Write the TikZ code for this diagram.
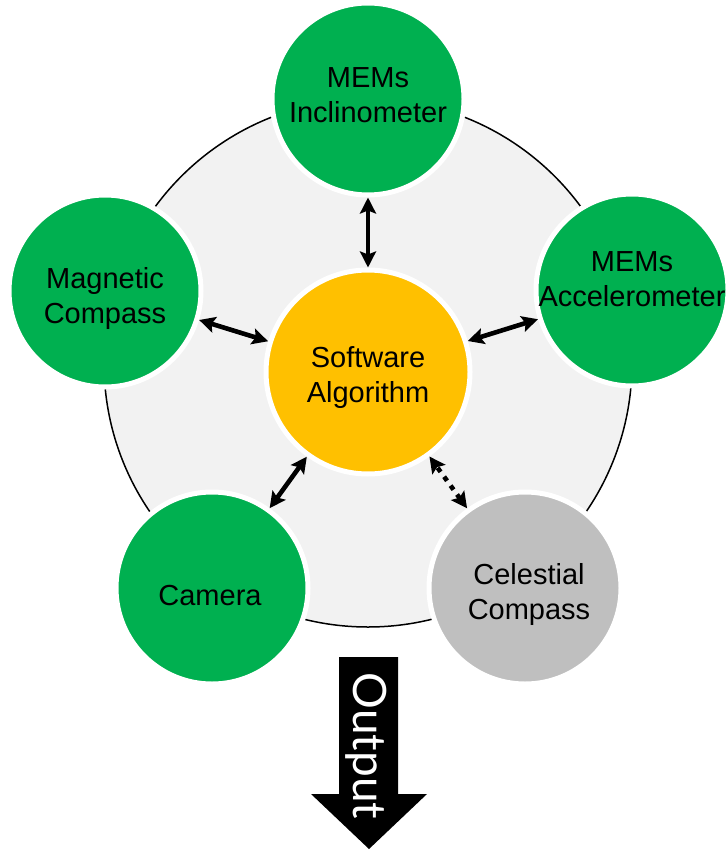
\documentclass[tikz,border=0pt]{standalone}
\usepackage{fontspec}
\setmainfont{Liberation Sans}
\newfontfamily\outfont{Lato}
\usetikzlibrary{arrows.meta}
\definecolor{sensorgreen}{HTML}{00B050}
\definecolor{algoyellow}{HTML}{FFC000}
\definecolor{ringfill}{HTML}{F2F2F2}
\definecolor{optgray}{HTML}{BFBFBF}
\begin{document}
\begin{tikzpicture}[x=1pt,y=-1pt,
  sensor/.style={circle, fill=sensorgreen, draw=white, line width=5pt,
                 minimum size=192pt, inner sep=0pt},
  optional/.style={sensor, fill=optgray},
  core/.style={circle, fill=algoyellow, draw=white, line width=5pt,
               minimum size=204pt, inner sep=0pt},
  lbl/.style={font=\fontsize{29}{35}\selectfont, align=center, inner sep=0pt},
  link/.style={line width=4.6pt, {Stealth[length=16pt,width=16pt,inset=3pt]}-{Stealth[length=16pt,width=16pt,inset=3pt]}},
  dottedlink/.style={link, dash pattern=on 5pt off 6pt},
]
% canvas
\fill[white] (0,0) rectangle (726,850);
\useasboundingbox (0,0) rectangle (726,850);

% ring behind the sensors
\draw[fill=ringfill, line width=1.5pt] (368,363) circle[radius=264];

% centre and sensors
\node[core] (soft) at (368,372) {};
\node[sensor] (incl) at (368,99) {};
\node[sensor] (mag) at (105,291) {};
\node[sensor] (acc) at (632,290) {};
\node[sensor] (cam) at (212,588) {};
\node[optional] (cel) at (525,588) {};

% labels
\node[lbl] (softtxt) at (368,377.5) {Software\\Algorithm};
\node[lbl] (incltxt) at (368,95) {MEMs\\Inclinometer};
\node[lbl] (magtxt) at (105,298.5) {Magnetic\\Compass};
\node[lbl] (acctxt) at (632,279.5) {MEMs\\Accelerometer};
\node[lbl] (camtxt) at (210,595.5) {Camera};
\node[lbl] (celtxt) at (529,594) {Celestial\\Compass};

% links to the algorithm
\draw[link] (incl) -- (soft);
\draw[link] (mag) -- (soft);
\draw[link] (acc) -- (soft);
\draw[link] (cam) -- (soft);
\draw[dottedlink] (cel) -- (soft);

% output arrow
\fill[black] (339,657) -- (398,657) -- (398,794) -- (427,794) -- (369,849)
  -- (311,794) -- (339,794) -- cycle;
\node[rotate=-90, text=white, inner sep=0pt,
      font=\outfont\fontsize{46}{46}\selectfont] (outtxt) at (366,746) {Output};
\end{tikzpicture}
\end{document}
